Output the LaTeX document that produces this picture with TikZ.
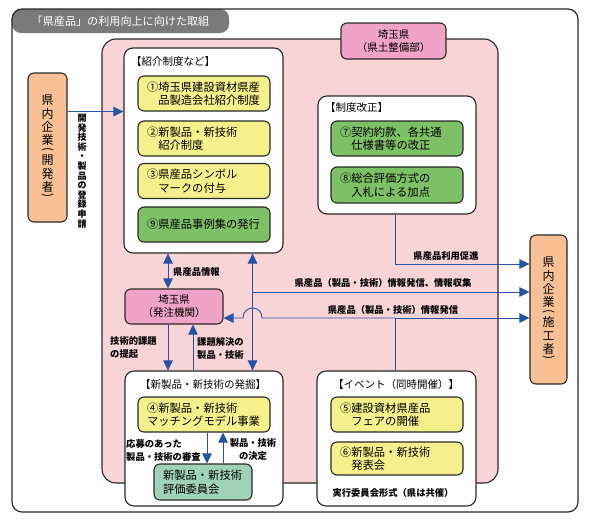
\documentclass[tikz,border=0pt]{standalone}
\usepackage{fontspec}
\usepackage{graphicx}
\setmainfont{Noto Sans CJK JP}
\usetikzlibrary{arrows.meta}
\definecolor{pinkbg}{RGB}{248,212,214}
\definecolor{pinkbox}{RGB}{239,163,199}
\definecolor{ybox}{RGB}{246,240,140}
\definecolor{gbox}{RGB}{126,192,102}
\definecolor{tbox}{RGB}{160,210,186}
\definecolor{obox}{RGB}{248,192,148}
\definecolor{arrblue}{RGB}{38,84,164}
\definecolor{edge}{RGB}{40,40,40}
\definecolor{tabgray}{RGB}{122,122,122}
\newcommand\vparen[1]{\rotatebox[origin=c]{-90}{#1}}
\begin{document}
\begin{tikzpicture}[x=1pt,y=-1pt,
  base/.style={draw=edge, line width=1.1pt, rounded corners=6pt, inner sep=0pt},
  item/.style={base, minimum width=132pt, minimum height=35pt, text width=114pt, align=left, font=\fontsize{11.3}{13.5}\selectfont},
  yitem/.style={item, fill=ybox},
  gitem/.style={item, fill=gbox},
  cont/.style={base, fill=white, rounded corners=9pt},
  arr/.style={draw=arrblue, line width=0.9pt, -{Triangle[length=10pt,width=9.5pt]}},
  darr/.style={draw=arrblue, line width=0.9pt, {Triangle[length=10pt,width=9.5pt]}-{Triangle[length=10pt,width=9.5pt]}},
  lab/.style={font=\fontsize{9.3}{13}\selectfont\bfseries, inner sep=0pt},
  ttl/.style={font=\fontsize{10.5}{12}\selectfont, inner sep=0pt},
  vtxt/.style={align=center, font=\fontsize{12}{13.3}\selectfont},
]
\useasboundingbox (0,0) rectangle (593,523);
% frame and title
\node[fill=tabgray, rounded corners=9pt, minimum width=217pt, minimum height=24pt, inner sep=0pt, text=white, font=\fontsize{11.1}{13}\selectfont] (tab) at (120.5,21) {「県産品」の利用向上に向けた取組};
\node[draw=edge, line width=1.2pt, rounded corners=10pt, minimum width=566pt, minimum height=503pt] (outer) at (295,260.5) {};
% prefecture area
\node[base, fill=pinkbg, rounded corners=14pt, minimum width=396pt, minimum height=444pt] (pref) at (300,261) {};
\node[base, fill=pinkbox, minimum width=105pt, minimum height=36pt, align=center, font=\fontsize{10.5}{13}\selectfont] (kendo) at (393.5,41) {埼玉県\\（県土整備部）};
% introduction systems
\node[cont, minimum width=159pt, minimum height=205pt] (intro) at (203.5,150.5) {};
\node[ttl, anchor=west] (introT) at (131,62) {【紹介制度など】};
\node[yitem] (b1) at (204,93.5) {①埼玉県建設資材県産\\　品製造会社紹介制度};
\node[yitem] (b2) at (204,138.5) {②新製品・新技術\\　紹介制度};
\node[yitem] (b3) at (204,181) {③県産品シンボル\\　マークの付与};
\node[gitem] (b9) at (204,224.5) {⑨県産品事例集の発行};
% developer
\node[base, fill=obox, minimum width=39pt, minimum height=149pt, vtxt] (dev) at (47.5,147.5) {県\\内\\企\\業\\[-5pt]\vparen{(}\\[-1.6pt]開\\発\\者\\[-5pt]\vparen{)}};
\node[lab, align=center, font=\fontsize{9}{9.6}\selectfont\bfseries] (devlab) at (82,171) {開\\発\\技\\術\\・\\製\\品\\の\\登\\録\\申\\請};
% system revision
\node[cont, minimum width=158pt, minimum height=118pt] (seido) at (397,155) {};
\node[ttl, anchor=west] (seidoT) at (325,108) {【制度改正】};
\node[gitem] (b7) at (397,138.5) {⑦契約約款、各共通\\　仕様書等の改正};
\node[gitem, minimum height=36pt] (b8) at (397,185) {⑧総合評価方式の\\　入札による加点};
% constructor
\node[base, fill=obox, minimum width=37pt, minimum height=149pt, vtxt] (seko) at (548.5,309.5) {県\\内\\企\\業\\[-5pt]\vparen{(}\\[-1.6pt]施\\工\\者\\[-5pt]\vparen{)}};
% ordering agency
\node[base, fill=pinkbox, minimum width=98pt, minimum height=35pt, align=center, font=\fontsize{10.5}{13}\selectfont] (hachu) at (174,306.5) {埼玉県\\（発注機関）};
% new products
\node[cont, minimum width=158pt, minimum height=135pt] (shin) at (204,438.5) {};
\node[ttl] (shinT) at (203,384) {【新製品・新技術の発掘】};
\node[yitem] (b4) at (204,414.5) {④新製品・新技術\\マッチングモデル事業};
\node[base, fill=tbox, minimum width=98pt, minimum height=36pt, text width=80pt, align=left, font=\fontsize{11.3}{13.5}\selectfont] (hyoka) at (203,482) {新製品・新技術\\評価委員会};
% events
\node[cont, minimum width=159pt, minimum height=135pt] (evt) at (396.5,438.5) {};
\node[ttl] (evtT) at (396,384) {【イベント（同時開催）】};
\node[yitem] (b5) at (397,414.5) {⑤建設資材県産品\\　フェアの開催};
\node[yitem, minimum height=33pt] (b6) at (397,458.5) {⑥新製品・新技術\\　発表会};
\node[lab] (evtnote) at (393,493) {実行委員会形式（県は共催）};
% connectors
\draw[arr] (dev.east |- b1.south) -- (intro.west |- b1.south);
\coordinate (hx) at ([xshift=-6pt]hachu.north);
\draw[darr] (hx) -- (hx |- intro.south);
\node[lab, anchor=west] (l1) at (173,272) {県産品情報};
\coordinate (vx) at ([xshift=-31pt]intro.south east);
\coordinate (vy) at ([xshift=-31pt]shin.north east);
\draw[darr] (vx) -- (vy);
\coordinate (sx) at ([xshift=-2pt]seido.south);
\coordinate (e1) at ([yshift=45.5pt]seko.west);
\draw[arr] (sx) |- (e1);
\node[lab] (l2) at (446,256) {県産品利用促進};
\coordinate (j1) at (252,292);
\draw[arr] (j1) -- (seko.west |- j1);
\node[lab] (l3) at (383,283) {県産品（製品・技術）情報発信、情報収集};
\coordinate (ex) at ([xshift=-1.5pt]evt.north);
\coordinate (j2) at (395,318);
\draw[arr] (ex) -- (j2) -- (seko.west |- j2);
\draw[arr] (j2) -- (262,318) .. controls (262,304.7) and (243,304.7) .. (243,318) -- (hachu.east |- j2);
\node[lab] (l4) at (393,310) {県産品（製品・技術）情報発信};
\coordinate (hd) at ([xshift=-6pt]hachu.south);
\draw[arr] (hd) -- (hd |- shin.north);
\coordinate (hu) at ([xshift=19pt]hachu.south);
\draw[arr] (hu |- shin.north) -- (hu);
\node[lab, anchor=west, align=left] (l5) at (110,348) {技術的課題\\の提起};
\node[lab, anchor=west, align=left] (l6) at (197,348) {課題解決の\\製品・技術};
\coordinate (bd) at ([xshift=3pt]b4.south);
\draw[arr] (bd) -- (bd |- hyoka.north);
\coordinate (bu) at ([xshift=19pt]b4.south);
\draw[arr] (bu |- hyoka.north) -- (bu);
\node[lab, anchor=west, align=left] (l7) at (126,450) {応募のあった\\製品・技術の審査};
\node[lab, align=center] (l8) at (253,449) {製品・技術\\の決定};
\end{tikzpicture}
\end{document}
